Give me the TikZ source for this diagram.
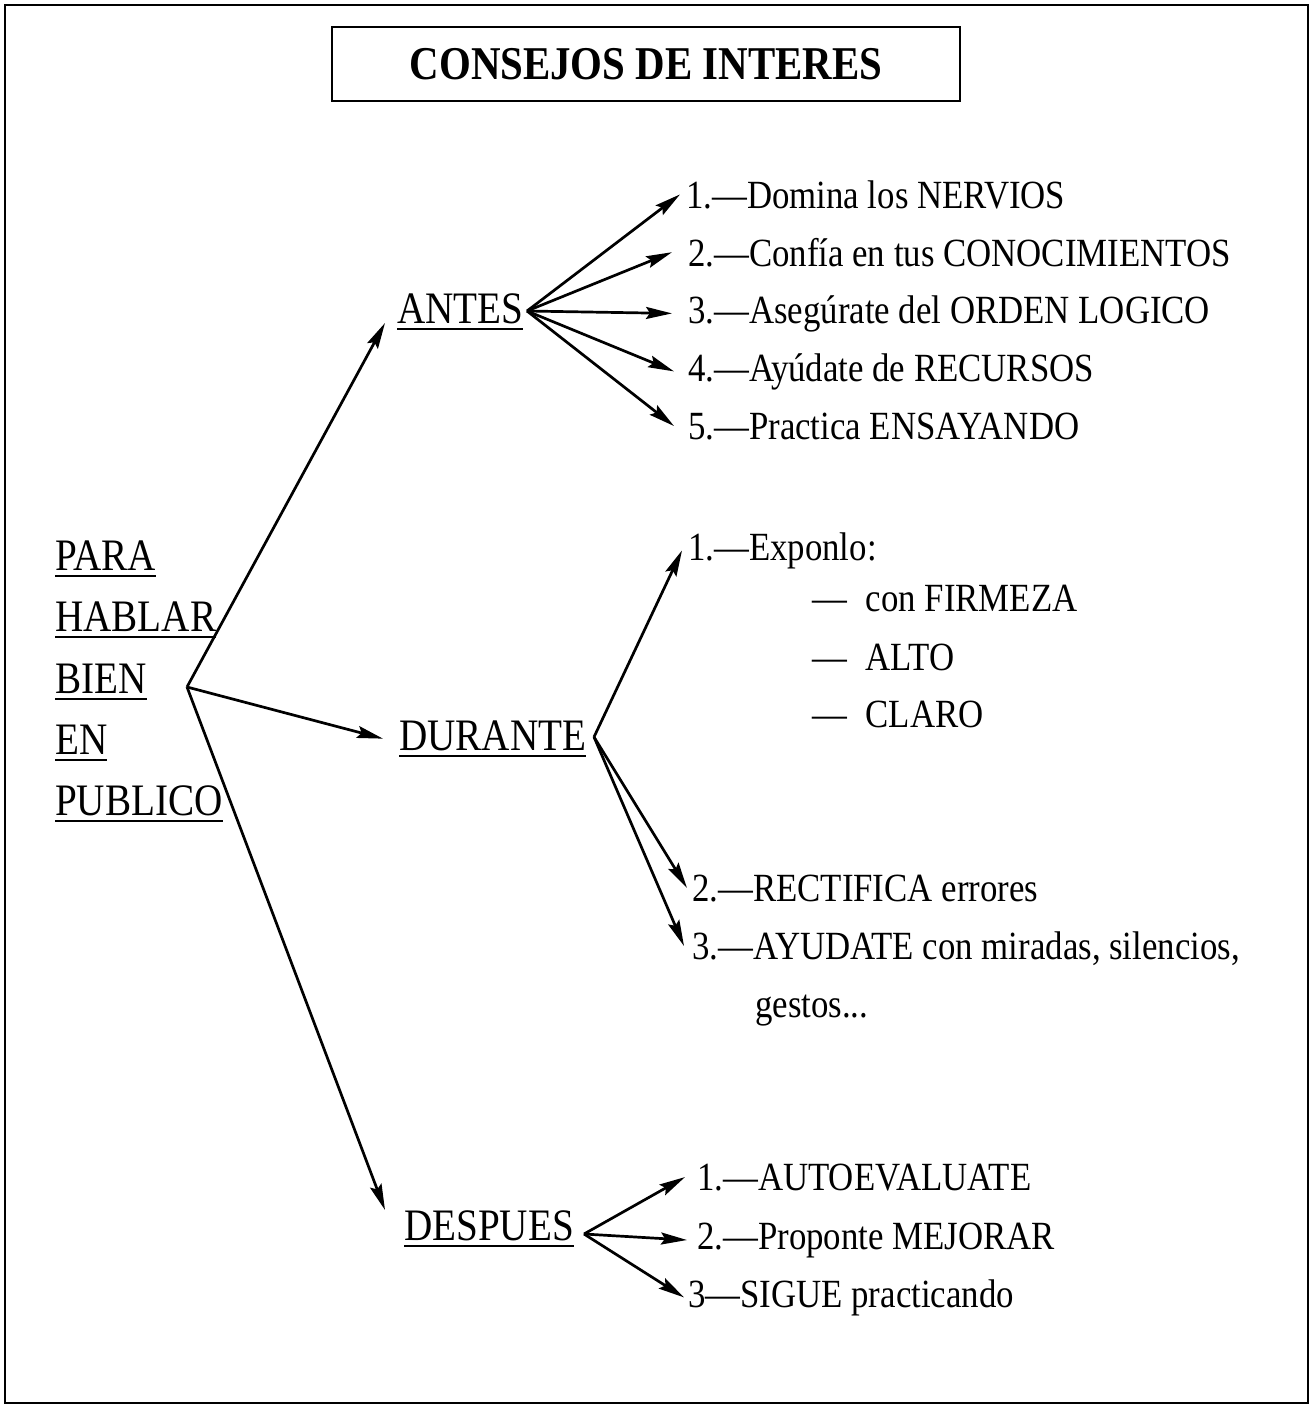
\documentclass[tikz,border=0pt]{standalone}
\usepackage{fontspec}
\setmainfont{Liberation Serif}[FakeStretch=0.87]
\usetikzlibrary{arrows.meta,positioning}
\newcommand{\ulword}[1]{\setbox0=\hbox{#1}\rlap{\copy0}\rule[-7pt]{\wd0}{1.8pt}}

\begin{document}
\begin{tikzpicture}[x=1pt,y=-1pt,>={Stealth[length=26pt,width=12pt,inset=4pt]},
  every node/.style={font=\fontsize{40}{58}\selectfont,inner sep=0pt,anchor=base west},
  big/.style={font=\fontsize{45}{58}\selectfont},
  arr/.style={->,line width=2.7pt}]
\useasboundingbox (0,0) rectangle (1313,1407);
\draw[line width=2pt] (5,5) rectangle (1308,1403);
\node[draw,line width=2pt,anchor=center,minimum width=628pt,minimum height=74pt,font=\fontsize{47}{50}\selectfont\bfseries] (title) at (646,64) {CONSEJOS DE INTERES};

\node[big] (para) at (55,570) {\ulword{PARA}};
\node[big] (hablar) at (55,631) {\ulword{HABLAR}};
\node[big] (bien) at (55,693) {\ulword{BIEN}};
\node[big] (en) at (55,754) {\ulword{EN}};
\node[big] (publico) at (55,815) {\ulword{PUBLICO}};
\coordinate (root) at (187,687);

\node[big] (antes) at (397,323) {\ulword{ANTES}};
\node[big] (durante) at (399,750) {\ulword{DURANTE}};
\node[big] (despues) at (404,1240) {\ulword{DESPUES}};
\coordinate (antesR) at (527,311);
\coordinate (duranteR) at (594,737);
\coordinate (despuesR) at (584,1234);

\node (a1) at (686,208) {1.---Domina los NERVIOS};
\node (a2) at (688,266) {2.---Confía en tus CONOCIMIENTOS};
\node (a3) at (688,323) {3.---Asegúrate del ORDEN LOGICO};
\node (a4) at (688,381) {4.---Ayúdate de RECURSOS};
\node (a5) at (688,439) {5.---Practica ENSAYANDO};

\node (d1) at (688,560) {1.---Exponlo:};
\node (d1a) at (812,611) {---\hspace{10pt} con FIRMEZA};
\node (d1b) at (812,670) {---\hspace{10pt} ALTO};
\node (d1c) at (812,727) {---\hspace{10pt} CLARO};
\node (d2) at (692,901) {2.---RECTIFICA errores};
\node[align=left] (d3) at (692,1017) {3.---AYUDATE con miradas, silencios,\\\hspace*{63pt}gestos...};

\node (p1) at (697,1190) {1.---AUTOEVALUATE};
\node (p2) at (697,1249) {2.---Proponte MEJORAR};
\node (p3) at (688,1307) {3---SIGUE practicando};

\draw[arr] (root) -- ([xshift=-12pt]antes.base west);
\draw[arr] (root) -- ([xshift=-16pt]durante.west);
\draw[arr] (root) -- ([xshift=-19pt]despues.north west);

\draw[arr] (antesR) -- ([xshift=-6pt]a1.west);
\draw[arr] (antesR) -- ([xshift=-16pt]a2.west);
\draw[arr] (antesR) -- ([xshift=-16pt]a3.west);
\draw[arr] (antesR) -- ([xshift=-14pt]a4.west);
\draw[arr] (antesR) -- ([xshift=-14pt]a5.west);

\draw[arr] (duranteR) -- ([xshift=-6pt]d1.west);
\draw[arr] (duranteR) -- ([xshift=-5pt]d2.west);
\draw[arr] (duranteR) -- ([xshift=-8pt,yshift=71pt]d3.base west);

\draw[arr] (despuesR) -- ([xshift=-12pt]p1.west);
\draw[arr] (despuesR) -- ([xshift=-10pt]p2.west);
\draw[arr] (despuesR) -- ([xshift=-4pt]p3.west);
\end{tikzpicture}
\end{document}
